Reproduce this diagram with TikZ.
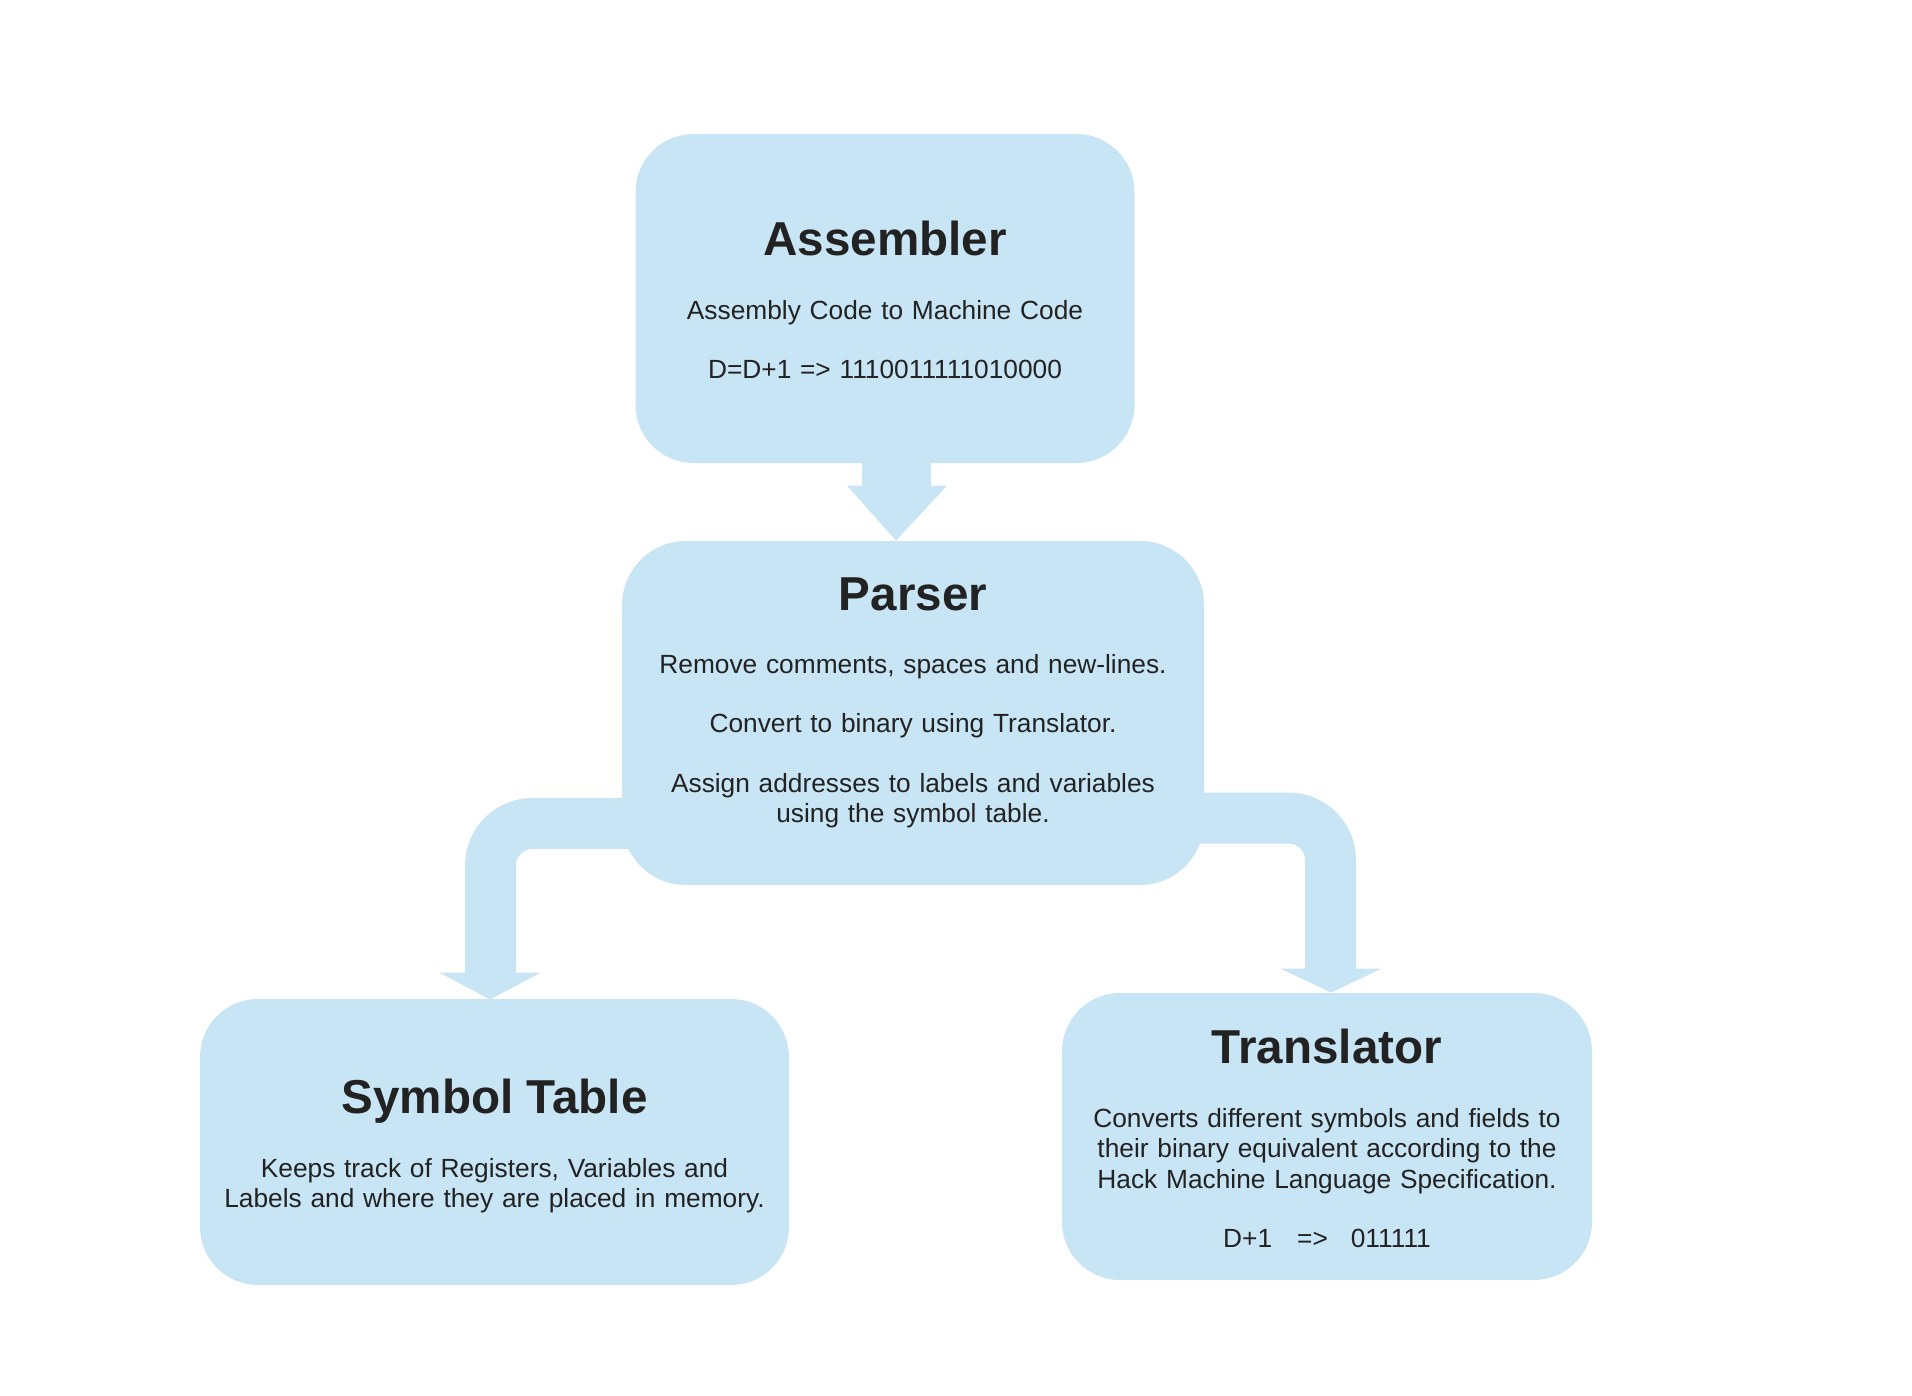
\documentclass[tikz,border=0pt]{standalone}
\usepackage{fontspec}
\setmainfont{Liberation Sans}
\usetikzlibrary{calc}
\definecolor{paleblue}{RGB}{200,229,245}
\definecolor{ink}{RGB}{34,34,34}

\begin{document}
\begin{tikzpicture}[x=0.5pt, y=-0.5pt,
  stage/.style={fill=paleblue, rounded corners=29pt, inner sep=0pt},
  heading/.style={anchor=base, inner sep=0pt, text=ink, font=\bfseries\fontsize{23.8}{28}\selectfont},
  blurb/.style={anchor=base, inner sep=0pt, text=ink, align=center, text width=290pt, font=\fontsize{13.15}{15.25}\selectfont},
  band/.style={draw=paleblue, line width=25.5pt, rounded corners=21pt},
  flowhead/.style={fill=paleblue}]
\useasboundingbox (0,0) rectangle (1912,1396);

% assembler pipeline
\node[stage, minimum width=249.5pt, minimum height=164.5pt] (asm) at (885,298.5) {};
\node[stage, rounded corners=32pt, minimum width=291pt, minimum height=172pt] (parser) at (913,713) {};
\node[stage, minimum width=294.5pt, minimum height=143pt] (symtab) at (494.5,1142) {};
\node[stage, minimum width=265pt, minimum height=143.5pt] (transl) at (1327,1136.5) {};

\node[heading] (asmT) at (885,256) {Assembler};
\node[blurb] (asmB) at (885,319.5) {Assembly Code to Machine Code\\[14.5pt]
  D=D+1 => 1110011111010000};

\node[heading] (parserT) at (913,610) {Parser};
\node[blurb] (parserB) at (913,673) {Remove comments, spaces and new-lines.\\[14.5pt]
  Convert to binary using Translator.\\[14.5pt]
  Assign addresses to labels and variables\\using the symbol table.};

\node[heading] (symtabT) at (494.5,1113) {Symbol Table};
\node[blurb] (symtabB) at (494.5,1177) {Keeps track of Registers, Variables and\\
  Labels and where they are placed in memory.};

\node[heading] (translT) at (1327,1063) {Translator};
\node[blurb] (translB) at (1327,1127) {Converts different symbols and fields to\\
  their binary equivalent according to the\\
  Hack Machine Language Specification.\\[14.5pt]
  D+1\hspace{12.5pt}=>\hspace{11.5pt}011111};

% arrows
\draw[band, line width=34.5pt] ($(asm.south)+(11.5,-1)$) -- ++(0,25);
\fill[flowhead] ($(parser.north)+(-17,0)$) -- ++(-49,-55) -- ++(100,0) -- cycle;

\draw[band] ($(parser.west)+(13,110.5)$) -| ($(symtab.north)+(-4,-24)$);
\fill[flowhead] ($(symtab.north)+(-4.5,1)$) -- ++(-50.5,-27) -- ++(101,0) -- cycle;

\draw[band] ($(parser.east)+(-10,105)$) -| ($(transl.north)+(3.5,-23)$);
\fill[flowhead] ($(transl.north)+(4,0)$) -- ++(-50.5,-24) -- ++(101,0) -- cycle;
\end{tikzpicture}
\end{document}
